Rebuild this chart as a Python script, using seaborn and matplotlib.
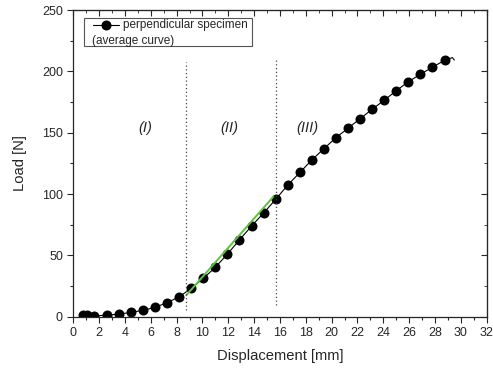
import numpy as np
import matplotlib
matplotlib.use('Agg')
import matplotlib.pyplot as plt
import seaborn as sns
from matplotlib.lines import Line2D
from matplotlib.patches import Rectangle

# averaged load-displacement curve (markers)
disp = [0.73, 1.04, 1.63, 2.58, 3.54, 4.47, 5.42, 6.35, 7.25, 8.2, 9.11, 10.06,
        11.0, 11.93, 12.84, 13.8, 14.76, 15.69, 16.6, 17.55, 18.46, 19.4, 20.33,
        21.29, 22.21, 23.14, 24.07, 24.98, 25.93, 26.86, 27.79, 28.75]
load = [1.4, 1.0, 0.5, 1.4, 2.0, 3.6, 5.2, 7.7, 11.4, 16.2, 23.0, 31.2,
        40.3, 51.0, 62.3, 73.9, 84.8, 95.9, 107.3, 117.6, 127.7, 136.9, 145.9,
        153.8, 161.4, 169.1, 176.4, 184.0, 191.5, 197.5, 203.3, 209.0]
# end of the curve, drawn without markers
tail_disp = [29.1, 29.35, 29.5]
tail_load = [210.3, 211.2, 209.2]

# linear fit in region (II)
fit_disp = [8.75, 15.5]
fit_load = [17.5, 98.0]

# region borders and labels
borders = [8.72, 15.7]
border_bottom = [5.5, 9.5]
border_top = [208, 211]
region_labels = ['(I)', '(II)', '(III)']
region_x = [5.57, 12.1, 18.1]
region_y = 154

sns.set_style('ticks')
plt.rcParams['font.family'] = ['Liberation Sans', 'DejaVu Sans']

fig = plt.figure(figsize=(4.93, 3.68), dpi=100)
ax = fig.add_axes([0.1487, 0.1394, 0.8383, 0.8334])

all_x = disp + tail_disp
all_y = load + tail_load
sns.lineplot(x=all_x, y=all_y, ax=ax, color='black', linewidth=0.8,
             marker='o', markersize=7.2, markeredgewidth=0,
             markevery=list(range(len(disp))), sort=False, estimator=None)

sns.lineplot(x=fit_disp, y=fit_load, ax=ax, color='#5cc43c', linewidth=1.4)

for bx, b0, b1 in zip(borders, border_bottom, border_top):
    ax.plot([bx, bx], [b0, b1], color='#444444', linestyle=(0, (1, 2)), linewidth=0.9)

for lab, lx in zip(region_labels, region_x):
    ax.text(lx, region_y, lab, fontsize=10.5, style='italic', ha='center', va='center')

ax.set_xlim(0, 32)
ax.set_ylim(0, 250)
ax.set_xticks(np.arange(0, 33, 2))
ax.set_xticks(np.arange(1, 32, 2), minor=True)
ax.set_yticks(np.arange(0, 251, 50))
ax.set_yticks(np.arange(25, 250, 50), minor=True)
ax.tick_params(which='major', direction='out', length=4, width=0.8, labelsize=9)
ax.tick_params(which='minor', direction='out', length=2.5, width=0.8)
ax.set_xlabel('Displacement [mm]', fontsize=10.6, labelpad=7)
ax.set_ylabel('Load [N]', fontsize=10.6, labelpad=11)

for sp in ax.spines.values():
    sp.set_visible(True)
    sp.set_linewidth(0.9)

top = ax.secondary_xaxis('top')
top.set_xticks(np.arange(0, 33, 2))
top.set_xticks(np.arange(1, 32, 2), minor=True)
top.tick_params(which='major', direction='in', length=4, labeltop=False)
top.tick_params(which='minor', direction='in', length=2.5)
right = ax.secondary_yaxis('right')
right.set_yticks(np.arange(0, 251, 50))
right.set_yticks(np.arange(25, 250, 50), minor=True)
right.tick_params(which='major', direction='in', length=4, labelright=False)
right.tick_params(which='minor', direction='in', length=2.5)

# legend box
ax.add_patch(Rectangle((0.026, 0.883), 0.406, 0.091, transform=ax.transAxes,
                       facecolor='white', edgecolor='#555555', linewidth=0.8, zorder=5))
ax.add_line(Line2D([0.047, 0.11], [0.952, 0.952], transform=ax.transAxes,
                   color='black', linewidth=0.8, zorder=6))
ax.add_line(Line2D([0.078], [0.952], transform=ax.transAxes, color='black',
                   marker='o', markersize=7.2, markeredgewidth=0, zorder=6))
ax.text(0.121, 0.952, 'perpendicular specimen', transform=ax.transAxes,
        fontsize=8.5, va='center', ha='left', zorder=7)
ax.text(0.046, 0.9, '(average curve)', transform=ax.transAxes,
        fontsize=8.5, va='center', ha='left', zorder=7)

fig.savefig('out.png', dpi=100)
